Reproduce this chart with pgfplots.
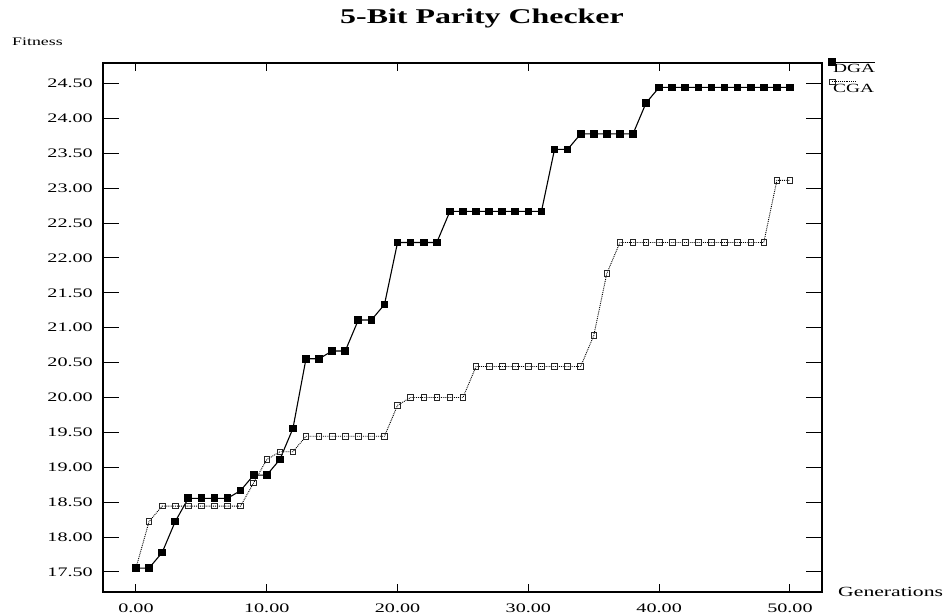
\documentclass[border=0pt]{standalone}
\usepackage{fontspec}
\setmainfont{Liberation Serif}[FakeStretch=1.55]
\newfontfamily\titlefont{Liberation Serif}[FakeStretch=1.52]
\usepackage{pgfplots}
\usepackage{pgfplotstable}
\pgfplotsset{compat=1.18}

% Legend images: a short line above the entry text, with the mark at its left end
\pgfplotsset{
  dga legend/.style={legend image code/.code={
    \draw[##1, overlay, mark repeat=2, mark phase=1] plot coordinates {(0pt,7pt) (43pt,7pt)};}},
  cga legend/.style={legend image code/.code={
    \draw[##1, overlay, mark repeat=2, mark phase=1] plot coordinates {(0pt,7pt) (24pt,7pt)};}},
  two decimals/.style={
    /pgf/number format/fixed,
    /pgf/number format/fixed zerofill,
    /pgf/number format/precision=2,
    /pgf/number format/assume math mode=true,
  },
}

% Best fitness per generation, averaged over runs
\pgfplotstableread{
gen dga     cga
0   17.5556 17.5556
1   17.5556 18.2222
2   17.7778 18.4444
3   18.2222 18.4444
4   18.5556 18.4444
5   18.5556 18.4444
6   18.5556 18.4444
7   18.5556 18.4444
8   18.6667 18.4444
9   18.8889 18.7778
10  18.8889 19.1111
11  19.1111 19.2222
12  19.5556 19.2222
13  20.5556 19.4444
14  20.5556 19.4444
15  20.6667 19.4444
16  20.6667 19.4444
17  21.1111 19.4444
18  21.1111 19.4444
19  21.3333 19.4444
20  22.2222 19.8889
21  22.2222 20.0000
22  22.2222 20.0000
23  22.2222 20.0000
24  22.6667 20.0000
25  22.6667 20.0000
26  22.6667 20.4444
27  22.6667 20.4444
28  22.6667 20.4444
29  22.6667 20.4444
30  22.6667 20.4444
31  22.6667 20.4444
32  23.5556 20.4444
33  23.5556 20.4444
34  23.7778 20.4444
35  23.7778 20.8889
36  23.7778 21.7778
37  23.7778 22.2222
38  23.7778 22.2222
39  24.2222 22.2222
40  24.4444 22.2222
41  24.4444 22.2222
42  24.4444 22.2222
43  24.4444 22.2222
44  24.4444 22.2222
45  24.4444 22.2222
46  24.4444 22.2222
47  24.4444 22.2222
48  24.4444 22.2222
49  24.4444 23.1111
50  24.4444 23.1111
}\fitness

\begin{document}
\begin{tikzpicture}
\begin{axis}[
  at={(0pt,0pt)}, anchor=south west,
  scale only axis, width=719pt, height=529pt,
  xmin=-2.52, xmax=52.45, ymin=17.213, ymax=24.794,
  axis line style={line width=1.1pt},
  tick align=inside, tick pos=both,
  major tick length=8pt,
  every tick/.style={black, line width=1pt},
  xtick={0,10,20,30,40,50},
  ytick={17.5,18,18.5,19,19.5,20,20.5,21,21.5,22,22.5,23,23.5,24,24.5},
  xticklabel style={inner sep=0pt, yshift=-12pt, font=\fontsize{13}{13}\selectfont, two decimals},
  yticklabel style={inner sep=0pt, xshift=-10pt, font=\fontsize{13}{13}\selectfont, two decimals},
  scaled ticks=false,
  title={\titlefont\bfseries 5-Bit Parity Checker},
  title style={at={(axis description cs:0.5,1)}, anchor=base, inner sep=0pt,
    yshift=33pt, xshift=19.5pt, font=\fontsize{21}{21}\selectfont},
  xlabel={Generations},
  xlabel style={at={(axis description cs:1,0)}, anchor=west, inner sep=0pt,
    xshift=16pt, font=\fontsize{14}{14}\selectfont},
  ylabel={Fitness},
  ylabel style={rotate=-90, at={(axis description cs:0,1)}, anchor=west, inner sep=0pt,
    xshift=-91pt, yshift=21pt, font=\fontsize{11.5}{11.5}\selectfont},
  reverse legend,
  legend style={at={(axis description cs:1,1)}, anchor=north west, draw=none, fill=none,
    xshift=10pt, inner sep=0pt, row sep=8pt, font=\fontsize{12.5}{12.5}\selectfont,
    nodes={inner sep=1pt}},
  legend cell align=left,
]
\addplot[black, line width=0.9pt, densely dotted,
  mark=square, mark size=2.8pt,
  mark options={solid, draw=black!85, fill=white, line width=0.8pt},
  cga legend]
  table[x=gen, y=cga] {\fitness};
\addlegendentry{CGA}
\addplot[black, line width=1.1pt, solid,
  mark=square*, mark size=3.3pt, mark options={solid, fill=black},
  dga legend]
  table[x=gen, y=dga] {\fitness};
\addlegendentry{DGA}
% tick marks on all four sides: short on the x axis, long on the y axis
\pgfplotsinvokeforeach{0,10,20,30,40,50}{
  \draw[black, line width=1pt] (axis cs:#1,17.213) -- ++(0pt,8pt);
  \draw[black, line width=1pt] (axis cs:#1,24.794) -- ++(0pt,-8pt);
}
\pgfplotsinvokeforeach{17.5,18,18.5,19,19.5,20,20.5,21,21.5,22,22.5,23,23.5,24,24.5}{
  \draw[black, line width=1pt] (axis cs:-2.52,#1) -- ++(16pt,0pt);
  \draw[black, line width=1pt] (axis cs:52.45,#1) -- ++(-16pt,0pt);
}
\end{axis}
\pgfresetboundingbox
\path[use as bounding box] (-103pt,-22pt) rectangle (848pt,592pt);
\end{tikzpicture}
\end{document}
